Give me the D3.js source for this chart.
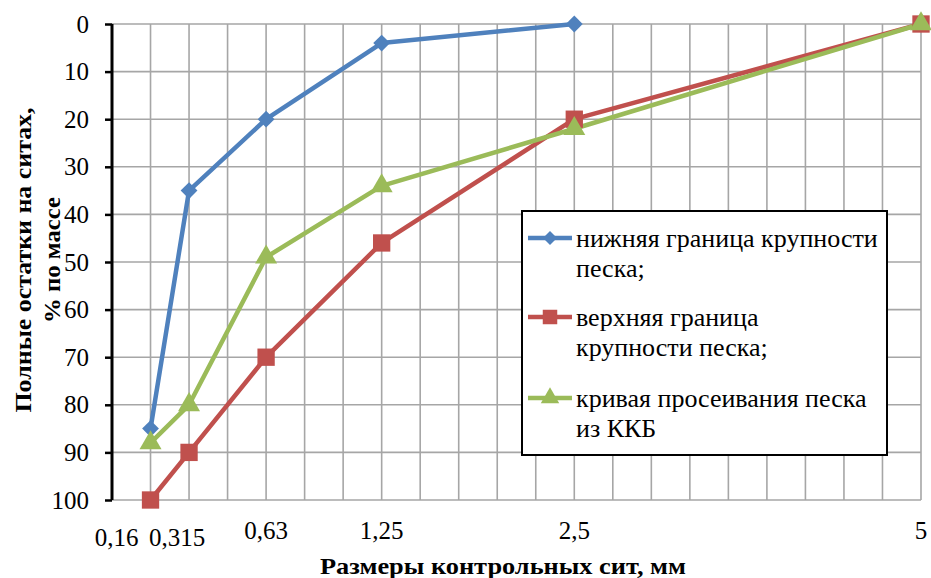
<!DOCTYPE html>
<html>
<head>
<meta charset="utf-8">
<script src="https://cdn.jsdelivr.net/npm/d3@7"></script>
</head>
<body style="margin:0; background:#fff">
<svg id="chart" width="931" height="578"></svg>
<script>
const width = 931, height = 578,
  margin = ({ top: 24, right: 10, bottom: 78, left: 112 });
const serif = "Liberation Serif";

// sieve sizes, placed on the grid (one grid step = one unit)
const sieves = ["0,16", "0,315", "0,63", "1,25", "2,5", "5"];
const sievePos = [1, 2, 4, 7, 12, 21];
const yTicks = [0, 10, 20, 30, 40, 50, 60, 70, 80, 90, 100];

// total residue on sieves, % by mass
const lowerBound = [85, 35, 20, 4, 0];          // нижняя граница
const upperBound = [100, 90, 70, 46, 20, 0];    // верхняя граница
const sandCurve = [88, 80, 49, 34, 22, 0];      // кривая просеивания

const seriesNames = [
  ["нижняя граница крупности", "песка;"],
  ["верхняя граница", "крупности песка;"],
  ["кривая просеивания песка", "из ККБ"]
];

const series = [
  { name: seriesNames[0], values: lowerBound, color: "#4F81BD", shape: d3.symbolDiamond2, size: 180 },
  { name: seriesNames[1], values: upperBound, color: "#C0504D", shape: d3.symbolSquare, size: 300 },
  { name: seriesNames[2], values: sandCurve, color: "#9BBB59", shape: d3.symbolTriangle, size: 210 }
];

const svg = d3.select("#chart");

const x = d3.scaleLinear().domain([0, 21]).range([margin.left, 921]);
const y = d3.scaleLinear().domain([0, 100]).range([margin.top, 500]);

// grid
svg.append("g")
  .selectAll("line")
  .data(d3.range(1, 22))
  .join("line")
  .attr("x1", d => x(d)).attr("x2", d => x(d))
  .attr("y1", y(0)).attr("y2", y(100))
  .attr("stroke", "#a6a6a6").attr("stroke-width", 1.6);

svg.append("g")
  .selectAll("line")
  .data(yTicks)
  .join("line")
  .attr("x1", x(0)).attr("x2", x(21))
  .attr("y1", d => y(d)).attr("y2", d => y(d))
  .attr("stroke", "#a6a6a6").attr("stroke-width", 1.6);

// y axis
const yAxis = svg.append("g")
  .attr("transform", `translate(${x(0)},0)`)
  .call(d3.axisLeft(y).tickValues(yTicks).tickSize(7).tickPadding(16));
yAxis.select(".domain").attr("stroke", "#000").attr("stroke-width", 3)
  .attr("d", `M0,${y(0)}V${y(100)}`);
yAxis.selectAll(".tick line").attr("stroke", "#000").attr("stroke-width", 2.5);
yAxis.selectAll(".tick text").attr("fill", "#000").attr("font-size", 25);

// x labels (first two shifted as in the original)
const labelDx = [-34, -12, 0, 0, 0, 0];
const labelBase = [546, 546, 539, 539, 539, 539];
svg.append("g")
  .selectAll("text")
  .data(sieves)
  .join("text")
  .attr("x", (d, i) => x(sievePos[i]) + labelDx[i])
  .attr("y", (d, i) => labelBase[i])
  .attr("text-anchor", "middle")
  .attr("font-size", 25)
  .text(d => d);

// lines + markers
const line = d3.line()
  .x((d, i) => x(sievePos[i]))
  .y(d => y(d));

for (const s of series) {
  svg.append("path")
    .datum(s.values)
    .attr("fill", "none")
    .attr("stroke", s.color)
    .attr("stroke-width", 4.5)
    .attr("stroke-linejoin", "round")
    .attr("d", line);
}
for (const s of series) {
  svg.append("g")
    .selectAll("path")
    .data(s.values)
    .join("path")
    .attr("transform", (d, i) => `translate(${x(sievePos[i])},${y(d)})`)
    .attr("d", d3.symbol().type(s.shape).size(s.size))
    .attr("fill", s.color);
}

// legend
const lg = svg.append("g").attr("transform", "translate(522,211)");
lg.append("rect")
  .attr("width", 365).attr("height", 244)
  .attr("fill", "#fff").attr("stroke", "#000").attr("stroke-width", 2);

const rowY = [27, 106, 187];
series.forEach((s, i) => {
  const g = lg.append("g").attr("transform", `translate(0,${rowY[i]})`);
  g.append("line").attr("x1", 6).attr("x2", 50)
    .attr("stroke", s.color).attr("stroke-width", 4.5);
  g.append("path").attr("transform", "translate(28,0)")
    .attr("d", d3.symbol().type(s.shape).size(s.size * 0.7))
    .attr("fill", s.color);
  g.selectAll("text")
    .data(s.name)
    .join("text")
    .attr("x", 54)
    .attr("y", (d, j) => 9 + j * 30)
    .attr("font-size", 26)
    .text(d => d);
});

// axis titles
svg.append("text")
  .attr("x", 503).attr("y", 574)
  .attr("text-anchor", "middle")
  .attr("textLength", 366).attr("lengthAdjust", "spacingAndGlyphs")
  .attr("font-size", 24).attr("font-weight", "bold")
  .text("Размеры контрольных  сит, мм");

const yt = svg.append("g").attr("transform", "translate(0,260) rotate(-90)");
yt.append("text")
  .attr("x", 0).attr("y", 31)
  .attr("text-anchor", "middle")
  .attr("textLength", 305).attr("lengthAdjust", "spacingAndGlyphs")
  .attr("font-size", 24).attr("font-weight", "bold")
  .text("Полные остатки  на ситах,");
yt.append("text")
  .attr("x", 0).attr("y", 60)
  .attr("text-anchor", "middle")
  .attr("textLength", 126).attr("lengthAdjust", "spacingAndGlyphs")
  .attr("font-size", 24).attr("font-weight", "bold")
  .text("% по массе");

// put the serif face on every text element directly
svg.selectAll("text").attr("font-family", serif);
</script>
</body>
</html>
